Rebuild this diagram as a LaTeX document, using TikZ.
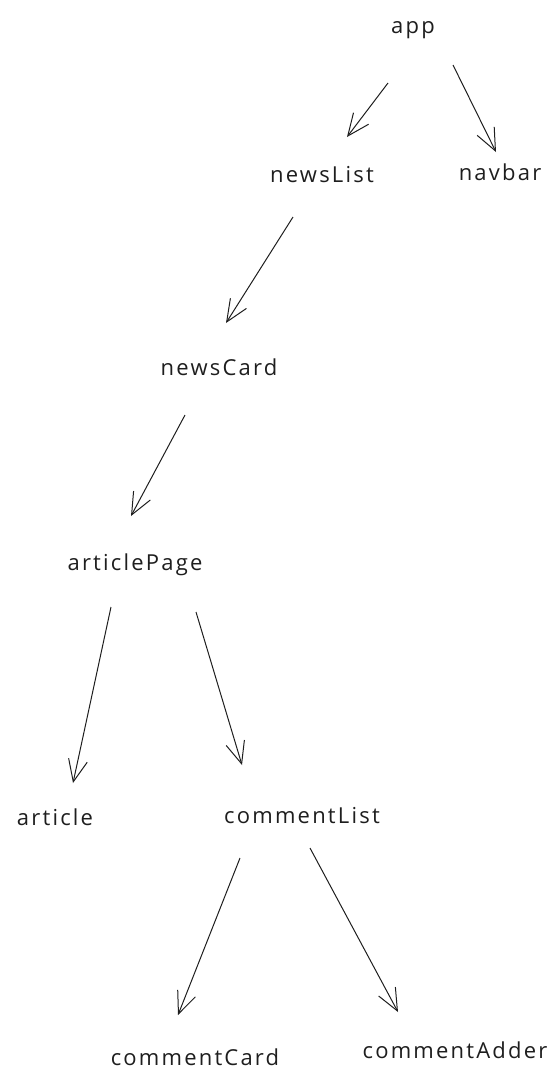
\documentclass[tikz,border=0pt]{standalone}
\usepackage{fontspec}
\setmainfont{Open Sans}[LetterSpace=10]
\usetikzlibrary{arrows.meta}
\definecolor{ink}{HTML}{1E1E1E}
\tikzset{
  lbl/.style={inner sep=0pt, text=ink, font=\fontsize{22}{26}\selectfont},
  conn/.style={draw=ink, line width=1pt, -{Straight Barb[length=22pt,width=19pt,line width=1pt]}}
}
\begin{document}
\begin{tikzpicture}[x=1pt,y=-1pt]
\useasboundingbox (0,0) rectangle (557,1088);
\node[lbl] (app) at (413,30) {app};
\node[lbl] (newsList) at (322,175) {newsList};
\node[lbl] (navbar) at (500,172) {navbar};
\node[lbl] (newsCard) at (219,367) {newsCard};
\node[lbl] (articlePage) at (135,565) {articlePage};
\node[lbl] (article) at (55,817) {article};
\node[lbl] (commentList) at (302,816) {commentList};
\node[lbl] (commentCard) at (195,1057) {commentCard};
\node[lbl] (commentAdder) at (455,1050) {commentAdder};
% connector end points
\coordinate (s1) at (388,83);  \coordinate (e1) at (347,137);
\coordinate (s2) at (453,65);  \coordinate (e2) at (496,152);
\coordinate (s3) at (293,217); \coordinate (e3) at (226,323);
\coordinate (s4) at (185,415); \coordinate (e4) at (131,516);
\coordinate (s5) at (111,607); \coordinate (e5) at (73,783);
\coordinate (s6) at (196,612); \coordinate (e6) at (242,765);
\coordinate (s7) at (240,858); \coordinate (e7) at (178,1015);
\coordinate (s8) at (310,848); \coordinate (e8) at (398,1012);
\draw[conn] (s1) -- (e1);
\draw[conn] (s2) -- (e2);
\draw[conn] (s3) -- (e3);
\draw[conn] (s4) -- (e4);
\draw[conn] (s5) -- (e5);
\draw[conn] (s6) -- (e6);
\draw[conn] (s7) -- (e7);
\draw[conn] (s8) -- (e8);
\end{tikzpicture}
\end{document}
